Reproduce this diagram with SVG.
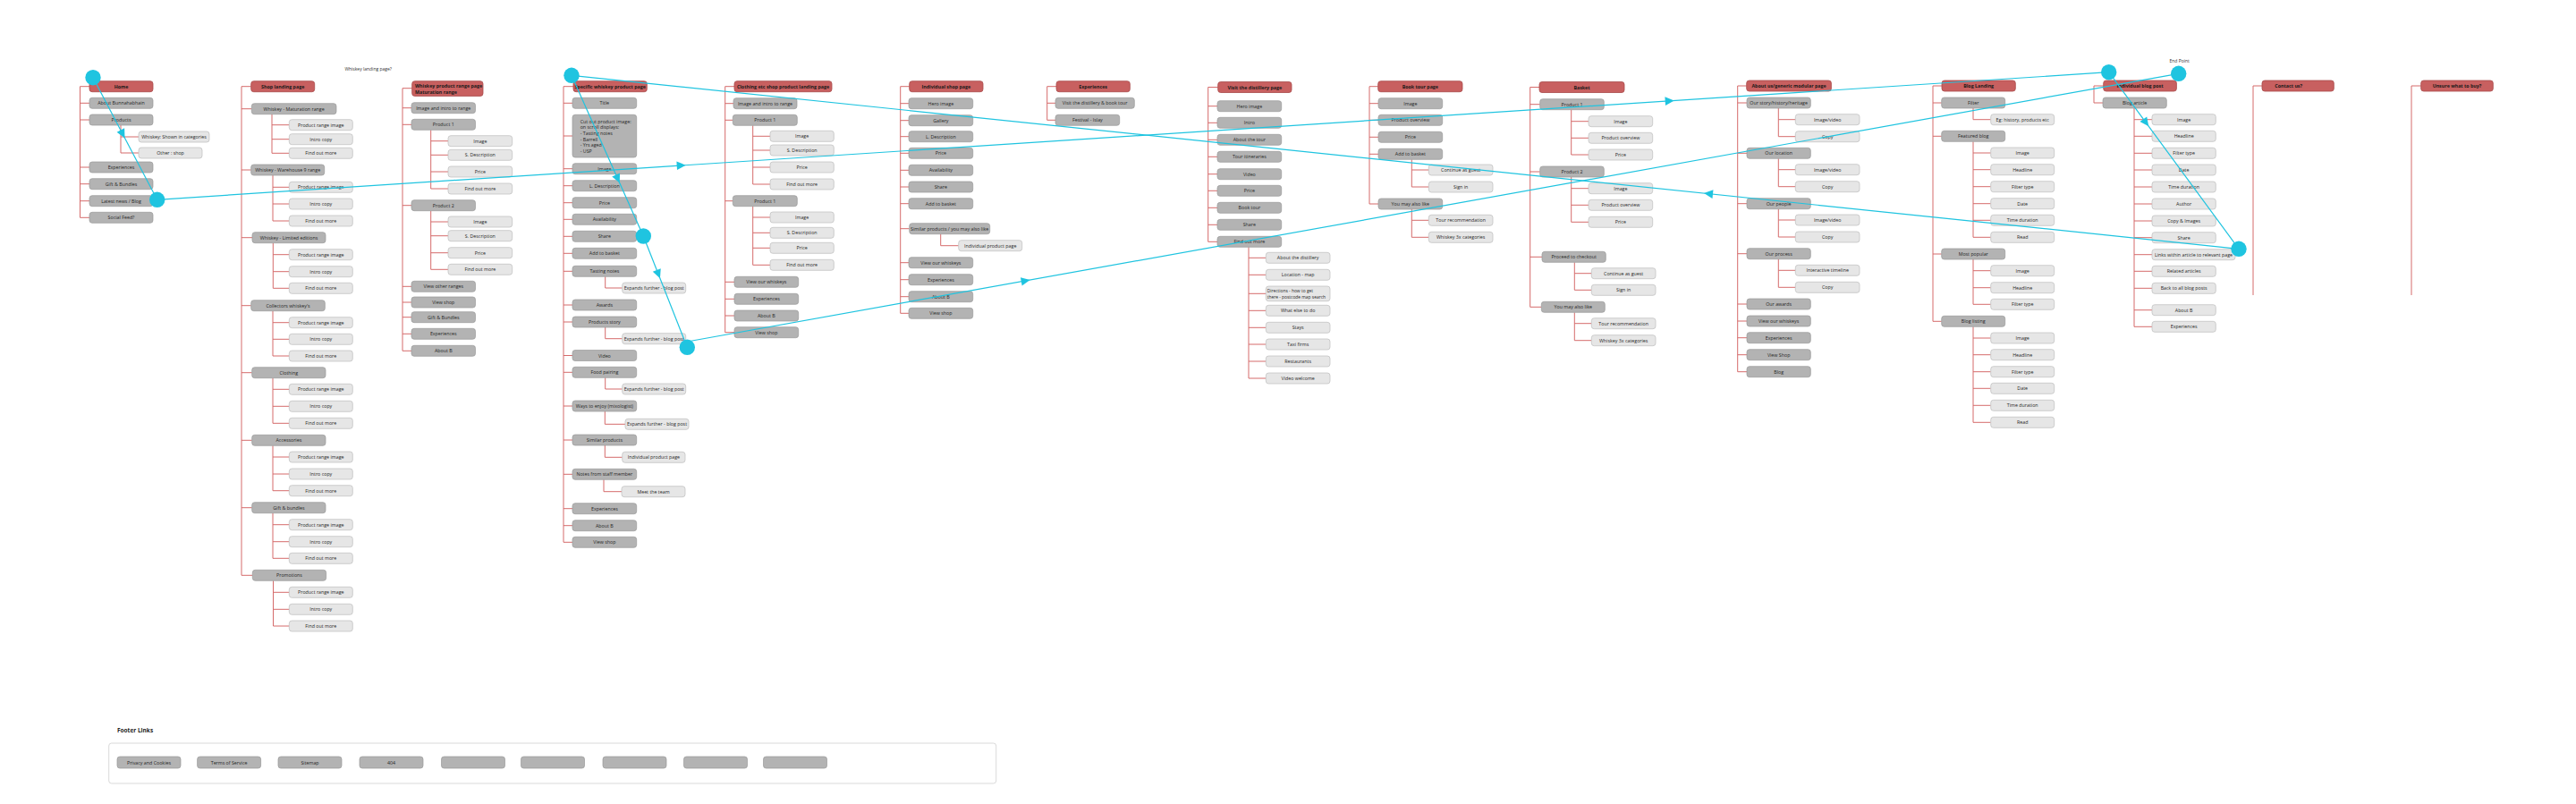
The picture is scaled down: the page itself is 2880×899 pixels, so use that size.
<svg xmlns="http://www.w3.org/2000/svg" width="2880" height="899" viewBox="0 0 2880 899">
<defs>
<style>
.h rect{fill:#c86060;stroke:#a84a4a;stroke-width:.8}
.g rect{fill:#b3b3b3;stroke:#9a9a9a;stroke-width:.7}
.l rect{fill:#e6e6e6;stroke:#bdbdbd;stroke-width:.7}
text{font-family:"Open Sans","Noto Sans","DejaVu Sans",sans-serif;font-size:5.3px;fill:#262626;text-anchor:middle;dominant-baseline:central}
.h text{font-weight:700;fill:#1a1a1a}
text.lt{text-anchor:start}
text.sm{font-size:4.9px}
.note{font-size:5px;fill:#333}
.ft{font-size:6.5px;font-weight:700;text-anchor:start;fill:#222}
#connectors path{fill:none;stroke:#d56b6b;stroke-width:1}
#flow line{stroke:#1fc4e0;stroke-width:1.2}
#flow circle,#flow use{fill:#1fc4e0}
</style>
<path id="arw" d="M5 0L-5 -4.8L-5 4.8Z"/>
</defs>
<rect width="2880" height="899" fill="#fff"/>

<g id="connectors">
<path d="M89.5 96.7V243.3M89.5 96.7H100M89.5 115.3H100M89.5 134H100M89.5 187H100M89.5 205.7H100M89.5 224.7H100M89.5 243.3H100M135 140V171M135 153H155M135 171H155"/>
<path d="M270 96.7V643.3M270 96.7H280.7M270 121.7H281.3M270 190H280.7M270 265.7H282M270 341.7H280.7M270 416.7H281.7M270 492.3H281.7M270 567.7H281.7M270 643.3H282.3
M304 127.7V171.3M304 139.7H323.3M304 155.7H323.3M304 171.3H323.3
M305 196V247M305 209.3H323.3M305 228H323.3M305 247H323.3
M305.3 271.7V322.3M305.3 284.7H323.3M305.3 303.7H323.3M305.3 322.3H323.3
M305 347.7V398M305 360.7H323.3M305 379.3H323.3M305 398H323.3
M305 422.7V473.3M305 435.3H323.3M305 454.3H323.3M305 473.3H323.3
M305 498.3V548.7M305 511H323.3M305 530H323.3M305 548.7H323.3
M305 573.7V624.3M305 586.7H323.3M305 605.7H323.3M305 624.3H323.3
M305.5 649.3V700M305.5 662.3H323.3M305.5 681.3H323.3M305.5 700H323.3"/>
<path d="M450 98.7V392.3M450 98.7H460.7M450 120.7H460M450 139.3H460M450 229.7H460M450 320.3H460M450 338H460M450 354.7H460M450 373.3H460M450 392.3H460
M481.7 145.3V211M481.7 157.7H501M481.7 173.3H501M481.7 192H501M481.7 211H501
M481.7 235.7V301.3M481.7 248H501M481.7 263.7H501M481.7 282.7H501M481.7 301.3H501"/>
<path d="M630 96.7V606.3M630 96.7H641M630 115.3H640M630 152H640M630 188.7H640M630 207.7H640M630 226.7H640M630 245.3H640M630 264.3H640M630 283.3H640M630 303.3H640M630 341H640M630 360H640M630 397.5H640M630 416.3H640M630 454H640M630 492H640M630 530.3H640M630 568.7H640M630 587.7H640M630 606.3H640
M676.7 309.3V322H695.7M676.7 366V378.7H695.7M676.7 422.3V435H695.7M676.3 460V474.3H699M676.3 498V511.3H695.7M675 536.3V549.7H695"/>
<path d="M810.7 96.7V371.7M810.7 96.7H821M810.7 115.7H820M810.7 134.3H819.3M810.7 224.7H819.3M810.7 315.3H821M810.7 334.3H821M810.7 353H821M810.7 371.7H821
M841.7 140.3V206M841.7 152.3H861M841.7 168H861M841.7 187H861M841.7 206H861
M841.7 230.7V296.3M841.7 243H861M841.7 260.3H861M841.7 277.3H861M841.7 296.3H861"/>
<path d="M1006.7 96.7V350.3M1006.7 96.7H1016.7M1006.7 115.7H1016M1006.7 134.7H1016M1006.7 152.7H1016M1006.7 171.3H1016M1006.7 190.3H1016M1006.7 209H1016M1006.7 227.7H1016M1006.7 255.7H1016.7M1006.7 293.7H1016M1006.7 312.7H1016M1006.7 331.7H1016M1006.7 350.3H1016
M1051.7 261.7V274.7H1071.7"/>
<path d="M1170.7 96.7V134.3M1170.7 96.7H1181M1170.7 115.3H1180M1170.7 134.3H1180"/>
<path d="M1350.7 97.5V270.3M1350.7 97.5H1361.7M1350.7 118.7H1361M1350.7 137.3H1361M1350.7 156.3H1361M1350.7 175.3H1361M1350.7 194.7H1361M1350.7 213.3H1361M1350.7 232.3H1361M1350.7 251.3H1361M1350.7 270.3H1361
M1396 276.3V423M1396 288.3H1415.3M1396 307.3H1415.3M1396 328.3H1415.3M1396 347.3H1415.3M1396 366.3H1415.3M1396 385H1415.3M1396 404H1415.3M1396 423H1415.3"/>
<path d="M1531 96.7V228M1531 96.7H1540.7M1531 115.7H1541M1531 134.3H1541M1531 153.3H1541M1531 172.3H1541M1531 228H1541
M1578.3 178.3V209M1578.3 190H1597.3M1578.3 209H1597.3M1578.3 234V265.3M1578.3 246.3H1597.3M1578.3 265.3H1597.3"/>
<path d="M1710.7 97.5V343.3M1710.7 97.5H1721M1710.7 116.7H1721.7M1710.7 192H1721.7M1710.7 287.3H1724M1710.7 343.3H1723.3
M1756.7 122.7V173M1756.7 135.7H1776M1756.7 154.3H1776M1756.7 173H1776
M1756.7 198V248.3M1756.7 210.7H1776M1756.7 229.3H1776M1756.7 248.3H1776
M1760.3 293.3V324.3M1760.3 305.7H1779.3M1760.3 324.3H1779.3
M1760.3 349.3V380.7M1760.3 361.7H1779.3M1760.3 380.7H1779.3"/>
<path d="M1942.7 96V415.7M1942.7 96H1952.7M1942.7 115H1953M1942.7 171.3H1953M1942.7 227.7H1953M1942.7 283.7H1953M1942.7 340H1953M1942.7 359H1953M1942.7 377.7H1953M1942.7 396.7H1953M1942.7 415.7H1953
M1988.3 121V152.7M1988.3 133.7H2007.3M1988.3 152.7H2007.3
M1988.3 177.3V208.7M1988.3 189.7H2007.3M1988.3 208.7H2007.3
M1988.3 233.7V265M1988.3 246H2007.3M1988.3 265H2007.3
M1988.3 289.7V321.3M1988.3 302.3H2007.3M1988.3 321.3H2007.3"/>
<path d="M2161 96V359.3M2161 96H2171M2161 115H2170.7M2161 152.3H2170.7M2161 284H2170.7M2161 359.3H2170.7
M2206 121V133.7H2225.7
M2206 158.3V265.3M2206 171H2225.7M2206 189.7H2225.7M2206 208.7H2225.7M2206 227.7H2225.7M2206 246.3H2225.7M2206 265.3H2225.7
M2206 290V340.3M2206 302.7H2225.7M2206 321.7H2225.7M2206 340.3H2225.7
M2206 365.3V472.3M2206 378H2225.7M2206 396.7H2225.7M2206 415.7H2225.7M2206 434.3H2225.7M2206 453.3H2225.7M2206 472.3H2225.7"/>
<path d="M2341 96V115M2341 96H2351.7M2341 115H2351
M2386 121V365.3M2386 133.7H2406M2386 152.3H2406M2386 171.3H2406M2386 190H2406M2386 209H2406M2386 228H2406M2386 247H2406M2386 265.7H2406M2386 284.7H2406M2386 303.3H2406M2386 322.3H2406M2386 346.7H2406M2386 365.3H2406"/>
<path d="M2519 96V330M2519 96H2529M2696 96V330M2696 96H2706.7"/>
</g>

<text class="note" x="411.7" y="76.7">Whiskey landing page?</text>
<text class="note" x="2436.7" y="68.3">End Point</text>

<!-- Column 1: Home -->
<g id="home" class="h"><rect x="100" y="90.7" width="71" height="12" rx="3"/><text x="135.5" y="96.7">Home</text></g>
<g id="home-about" class="g"><rect x="100" y="109.3" width="71" height="12" rx="3"/><text x="135.5" y="115.3">About Bunnahabhain</text></g>
<g id="home-products" class="g"><rect x="100" y="128" width="71" height="12" rx="3"/><text x="135.5" y="134">Products</text></g>
<g id="home-whiskey-cat" class="l"><rect x="155" y="147" width="79" height="12" rx="3"/><text x="194.5" y="153">Whiskey: Shown in categories</text></g>
<g id="home-other-shop" class="l"><rect x="155" y="165" width="71" height="12" rx="3"/><text x="190.5" y="171">Other : shop</text></g>
<g id="home-experiences" class="g"><rect x="100" y="181" width="71" height="12" rx="3"/><text x="135.5" y="187">Experiences</text></g>
<g id="home-gift" class="g"><rect x="100" y="199.7" width="71" height="12" rx="3"/><text x="135.5" y="205.7">Gift &amp; Bundles</text></g>
<g id="home-latest" class="g"><rect x="100" y="218.7" width="71" height="12" rx="3"/><text x="135.5" y="224.7">Latest news / Blog</text></g>
<g id="home-social" class="g"><rect x="100" y="237.3" width="71" height="12" rx="3"/><text x="135.5" y="243.3">Social Feed?</text></g>

<!-- Column 2: Shop landing -->
<g id="shop" class="h"><rect x="280.7" y="90.7" width="71" height="12" rx="3"/><text x="316.2" y="96.7">Shop landing page</text></g>
<g id="shop-mat" class="g"><rect x="281.3" y="115.7" width="94.7" height="12" rx="3"/><text x="328.65" y="121.7">Whiskey - Maturation range</text></g>
<g id="shop-mat-1" class="l"><rect x="323.3" y="133.7" width="71" height="12" rx="3"/><text x="358.8" y="139.7">Product range image</text></g>
<g id="shop-mat-2" class="l"><rect x="323.3" y="149.7" width="71" height="12" rx="3"/><text x="358.8" y="155.7">Intro copy</text></g>
<g id="shop-mat-3" class="l"><rect x="323.3" y="165.3" width="71" height="12" rx="3"/><text x="358.8" y="171.3">Find out more</text></g>
<g id="shop-wh9" class="g"><rect x="280.7" y="184" width="82" height="12" rx="3"/><text x="321.7" y="190">Whiskey - Warehouse 9 range</text></g>
<g id="shop-wh9-1" class="l"><rect x="323.3" y="203.3" width="71" height="12" rx="3"/><text x="358.8" y="209.3">Product range image</text></g>
<g id="shop-wh9-2" class="l"><rect x="323.3" y="222" width="71" height="12" rx="3"/><text x="358.8" y="228">Intro copy</text></g>
<g id="shop-wh9-3" class="l"><rect x="323.3" y="241" width="71" height="12" rx="3"/><text x="358.8" y="247">Find out more</text></g>
<g id="shop-ltd" class="g"><rect x="282" y="259.7" width="82" height="12" rx="3"/><text x="323" y="265.7">Whiskey - Limited editions</text></g>
<g id="shop-ltd-1" class="l"><rect x="323.3" y="278.7" width="71" height="12" rx="3"/><text x="358.8" y="284.7">Product range image</text></g>
<g id="shop-ltd-2" class="l"><rect x="323.3" y="297.7" width="71" height="12" rx="3"/><text x="358.8" y="303.7">Intro copy</text></g>
<g id="shop-ltd-3" class="l"><rect x="323.3" y="316.3" width="71" height="12" rx="3"/><text x="358.8" y="322.3">Find out more</text></g>
<g id="shop-col" class="g"><rect x="280.7" y="335.7" width="82.6" height="12" rx="3"/><text x="322" y="341.7">Collectors whiskey's</text></g>
<g id="shop-col-1" class="l"><rect x="323.3" y="354.7" width="71" height="12" rx="3"/><text x="358.8" y="360.7">Product range image</text></g>
<g id="shop-col-2" class="l"><rect x="323.3" y="373.3" width="71" height="12" rx="3"/><text x="358.8" y="379.3">Intro copy</text></g>
<g id="shop-col-3" class="l"><rect x="323.3" y="392" width="71" height="12" rx="3"/><text x="358.8" y="398">Find out more</text></g>
<g id="shop-clo" class="g"><rect x="281.7" y="410.7" width="82.3" height="12" rx="3"/><text x="322.85" y="416.7">Clothing</text></g>
<g id="shop-clo-1" class="l"><rect x="323.3" y="429.3" width="71" height="12" rx="3"/><text x="358.8" y="435.3">Product range image</text></g>
<g id="shop-clo-2" class="l"><rect x="323.3" y="448.3" width="71" height="12" rx="3"/><text x="358.8" y="454.3">Intro copy</text></g>
<g id="shop-clo-3" class="l"><rect x="323.3" y="467.3" width="71" height="12" rx="3"/><text x="358.8" y="473.3">Find out more</text></g>
<g id="shop-acc" class="g"><rect x="281.7" y="486.3" width="82.3" height="12" rx="3"/><text x="322.85" y="492.3">Accessories</text></g>
<g id="shop-acc-1" class="l"><rect x="323.3" y="505" width="71" height="12" rx="3"/><text x="358.8" y="511">Product range image</text></g>
<g id="shop-acc-2" class="l"><rect x="323.3" y="524" width="71" height="12" rx="3"/><text x="358.8" y="530">Intro copy</text></g>
<g id="shop-acc-3" class="l"><rect x="323.3" y="542.7" width="71" height="12" rx="3"/><text x="358.8" y="548.7">Find out more</text></g>
<g id="shop-gift" class="g"><rect x="281.7" y="561.7" width="82.3" height="12" rx="3"/><text x="322.85" y="567.7">Gift &amp; bundles</text></g>
<g id="shop-gift-1" class="l"><rect x="323.3" y="580.7" width="71" height="12" rx="3"/><text x="358.8" y="586.7">Product range image</text></g>
<g id="shop-gift-2" class="l"><rect x="323.3" y="599.7" width="71" height="12" rx="3"/><text x="358.8" y="605.7">Intro copy</text></g>
<g id="shop-gift-3" class="l"><rect x="323.3" y="618.3" width="71" height="12" rx="3"/><text x="358.8" y="624.3">Find out more</text></g>
<g id="shop-promo" class="g"><rect x="282.3" y="637.3" width="82.3" height="12" rx="3"/><text x="323.45" y="643.3">Promotions</text></g>
<g id="shop-promo-1" class="l"><rect x="323.3" y="656.3" width="71" height="12" rx="3"/><text x="358.8" y="662.3">Product range image</text></g>
<g id="shop-promo-2" class="l"><rect x="323.3" y="675.3" width="71" height="12" rx="3"/><text x="358.8" y="681.3">Intro copy</text></g>
<g id="shop-promo-3" class="l"><rect x="323.3" y="694" width="71" height="12" rx="3"/><text x="358.8" y="700">Find out more</text></g>

<!-- Column 3: Whiskey product range -->
<g id="range" class="h"><rect x="460.7" y="90.7" width="79.3" height="16.7" rx="3"/><text class="lt" x="464" y="96">Whiskey product range page</text><text class="lt" x="464" y="102.5">Maturation range</text></g>
<g id="range-intro" class="g"><rect x="460" y="114.7" width="71.5" height="12" rx="3"/><text x="495.75" y="120.7">Image and intro to range</text></g>
<g id="range-p1" class="g"><rect x="460" y="133.3" width="71.5" height="12" rx="3"/><text x="495.75" y="139.3">Product 1</text></g>
<g id="range-p1-img" class="l"><rect x="501" y="151.7" width="71.7" height="12" rx="3"/><text x="536.85" y="157.7">Image</text></g>
<g id="range-p1-desc" class="l"><rect x="501" y="167.3" width="71.7" height="12" rx="3"/><text x="536.85" y="173.3">S. Description</text></g>
<g id="range-p1-price" class="l"><rect x="501" y="186" width="71.7" height="12" rx="3"/><text x="536.85" y="192">Price</text></g>
<g id="range-p1-more" class="l"><rect x="501" y="205" width="71.7" height="12" rx="3"/><text x="536.85" y="211">Find out more</text></g>
<g id="range-p2" class="g"><rect x="460" y="223.7" width="71.5" height="12" rx="3"/><text x="495.75" y="229.7">Product 2</text></g>
<g id="range-p2-img" class="l"><rect x="501" y="242" width="71.7" height="12" rx="3"/><text x="536.85" y="248">Image</text></g>
<g id="range-p2-desc" class="l"><rect x="501" y="257.7" width="71.7" height="12" rx="3"/><text x="536.85" y="263.7">S. Description</text></g>
<g id="range-p2-price" class="l"><rect x="501" y="276.7" width="71.7" height="12" rx="3"/><text x="536.85" y="282.7">Price</text></g>
<g id="range-p2-more" class="l"><rect x="501" y="295.3" width="71.7" height="12" rx="3"/><text x="536.85" y="301.3">Find out more</text></g>
<g id="range-other" class="g"><rect x="460" y="314.3" width="71.5" height="12" rx="3"/><text x="495.75" y="320.3">View other ranges</text></g>
<g id="range-shop" class="g"><rect x="460" y="332" width="71.5" height="12" rx="3"/><text x="495.75" y="338">View shop</text></g>
<g id="range-gift" class="g"><rect x="460" y="348.7" width="71.5" height="12" rx="3"/><text x="495.75" y="354.7">Gift &amp; Bundles</text></g>
<g id="range-exp" class="g"><rect x="460" y="367.3" width="71.5" height="12" rx="3"/><text x="495.75" y="373.3">Experiences</text></g>
<g id="range-about" class="g"><rect x="460" y="386.3" width="71.5" height="12" rx="3"/><text x="495.75" y="392.3">About B</text></g>

<!-- Column 4: Specific whiskey product page -->
<g id="prod" class="h"><rect x="641" y="90.7" width="82.3" height="12" rx="3"/><text x="682.15" y="96.7">Specific whiskey product page</text></g>
<g id="prod-title" class="g"><rect x="640" y="109.3" width="71.7" height="12" rx="3"/><text x="675.85" y="115.3">Title</text></g>
<g id="prod-cutout" class="g"><rect x="640" y="128.3" width="71.7" height="47.7" rx="3"/><text class="lt" x="648.7" y="135.7">Cut out product image:</text><text class="lt" x="648.7" y="142.3">on scroll displays:</text><text class="lt" x="648.7" y="149">-  Tasting notes</text><text class="lt" x="648.7" y="155.7">- Barrell</text><text class="lt" x="648.7" y="162.3">- Yrs aged</text><text class="lt" x="648.7" y="169">- USP</text></g>
<g id="prod-image" class="g"><rect x="640" y="182.7" width="71.7" height="12" rx="3"/><text x="675.85" y="188.7">Image</text></g>
<g id="prod-ldesc" class="g"><rect x="640" y="201.7" width="71.7" height="12" rx="3"/><text x="675.85" y="207.7">L. Description</text></g>
<g id="prod-price" class="g"><rect x="640" y="220.7" width="71.7" height="12" rx="3"/><text x="675.85" y="226.7">Price</text></g>
<g id="prod-avail" class="g"><rect x="640" y="239.3" width="71.7" height="12" rx="3"/><text x="675.85" y="245.3">Availability</text></g>
<g id="prod-share" class="g"><rect x="640" y="258.3" width="71.7" height="12" rx="3"/><text x="675.85" y="264.3">Share</text></g>
<g id="prod-basket" class="g"><rect x="640" y="277.3" width="71.7" height="12" rx="3"/><text x="675.85" y="283.3">Add to basket</text></g>
<g id="prod-tasting" class="g"><rect x="640" y="297.3" width="71.7" height="12" rx="3"/><text x="675.85" y="303.3">Tasting notes</text></g>
<g id="prod-tasting-blog" class="l"><rect x="695.7" y="316" width="71" height="12" rx="3"/><text x="731.2" y="322">Expands further - blog post</text></g>
<g id="prod-awards" class="g"><rect x="640" y="335" width="71.7" height="12" rx="3"/><text x="675.85" y="341">Awards</text></g>
<g id="prod-story" class="g"><rect x="640" y="354" width="71.7" height="12" rx="3"/><text x="675.85" y="360">Products story</text></g>
<g id="prod-story-blog" class="l"><rect x="695.7" y="372.7" width="71" height="12" rx="3"/><text x="731.2" y="378.7">Expands further - blog post</text></g>
<g id="prod-video" class="g"><rect x="640" y="391.5" width="71.7" height="12" rx="3"/><text x="675.85" y="397.5">Video</text></g>
<g id="prod-food" class="g"><rect x="640" y="410.3" width="71.7" height="12" rx="3"/><text x="675.85" y="416.3">Food pairing</text></g>
<g id="prod-food-blog" class="l"><rect x="695.7" y="429" width="71" height="12" rx="3"/><text x="731.2" y="435">Expands further - blog post</text></g>
<g id="prod-ways" class="g"><rect x="640" y="448" width="71.7" height="12" rx="3"/><text x="675.85" y="454">Ways to enjoy (mixologist)</text></g>
<g id="prod-ways-blog" class="l"><rect x="699" y="468.3" width="71" height="12" rx="3"/><text x="734.5" y="474.3">Expands further - blog post</text></g>
<g id="prod-similar" class="g"><rect x="640" y="486" width="71.7" height="12" rx="3"/><text x="675.85" y="492">Similar products</text></g>
<g id="prod-similar-page" class="l"><rect x="695.7" y="505.3" width="70.3" height="12" rx="3"/><text x="730.85" y="511.3">Individual product page</text></g>
<g id="prod-notes" class="g"><rect x="640" y="524.3" width="71.7" height="12" rx="3"/><text x="675.85" y="530.3">Notes from staff member</text></g>
<g id="prod-notes-team" class="l"><rect x="695" y="543.7" width="71" height="12" rx="3"/><text x="730.5" y="549.7">Meet the team</text></g>
<g id="prod-exp" class="g"><rect x="640" y="562.7" width="71.7" height="12" rx="3"/><text x="675.85" y="568.7">Experiences</text></g>
<g id="prod-about" class="g"><rect x="640" y="581.7" width="71.7" height="12" rx="3"/><text x="675.85" y="587.7">About B</text></g>
<g id="prod-shop" class="g"><rect x="640" y="600.3" width="71.7" height="12" rx="3"/><text x="675.85" y="606.3">View shop</text></g>

<!-- Column 5: Clothing -->
<g id="cloth" class="h"><rect x="821" y="90.7" width="109" height="12" rx="3"/><text x="875.5" y="96.7">Clothing etc shop product landing page</text></g>
<g id="cloth-intro" class="g"><rect x="820" y="109.7" width="71" height="12" rx="3"/><text x="855.5" y="115.7">Image and intro to range</text></g>
<g id="cloth-p1" class="g"><rect x="819.3" y="128.3" width="72" height="12" rx="3"/><text x="855.3" y="134.3">Product 1</text></g>
<g id="cloth-p1-img" class="l"><rect x="861" y="146.3" width="71.3" height="12" rx="3"/><text x="896.65" y="152.3">Image</text></g>
<g id="cloth-p1-desc" class="l"><rect x="861" y="162" width="71.3" height="12" rx="3"/><text x="896.65" y="168">S. Description</text></g>
<g id="cloth-p1-price" class="l"><rect x="861" y="181" width="71.3" height="12" rx="3"/><text x="896.65" y="187">Price</text></g>
<g id="cloth-p1-more" class="l"><rect x="861" y="200" width="71.3" height="12" rx="3"/><text x="896.65" y="206">Find out more</text></g>
<g id="cloth-p2" class="g"><rect x="819.3" y="218.7" width="72" height="12" rx="3"/><text x="855.3" y="224.7">Product 1</text></g>
<g id="cloth-p2-img" class="l"><rect x="861" y="237" width="71.3" height="12" rx="3"/><text x="896.65" y="243">Image</text></g>
<g id="cloth-p2-desc" class="l"><rect x="861" y="254.3" width="71.3" height="12" rx="3"/><text x="896.65" y="260.3">S. Description</text></g>
<g id="cloth-p2-price" class="l"><rect x="861" y="271.3" width="71.3" height="12" rx="3"/><text x="896.65" y="277.3">Price</text></g>
<g id="cloth-p2-more" class="l"><rect x="861" y="290.3" width="71.3" height="12" rx="3"/><text x="896.65" y="296.3">Find out more</text></g>
<g id="cloth-whiskeys" class="g"><rect x="821" y="309.3" width="71.7" height="12" rx="3"/><text x="856.85" y="315.3">View our whiskeys</text></g>
<g id="cloth-exp" class="g"><rect x="821" y="328.3" width="71.7" height="12" rx="3"/><text x="856.85" y="334.3">Experiences</text></g>
<g id="cloth-about" class="g"><rect x="821" y="347" width="71.7" height="12" rx="3"/><text x="856.85" y="353">About B</text></g>
<g id="cloth-shop" class="g"><rect x="821" y="365.7" width="71.7" height="12" rx="3"/><text x="856.85" y="371.7">View shop</text></g>

<!-- Column 6: Individual shop page -->
<g id="ishop" class="h"><rect x="1016.7" y="90.7" width="82.3" height="12" rx="3"/><text x="1057.85" y="96.7">Individual shop page</text></g>
<g id="ishop-hero" class="g"><rect x="1016" y="109.7" width="71.7" height="12" rx="3"/><text x="1051.85" y="115.7">Hero image</text></g>
<g id="ishop-gallery" class="g"><rect x="1016" y="128.7" width="71.7" height="12" rx="3"/><text x="1051.85" y="134.7">Gallery</text></g>
<g id="ishop-ldesc" class="g"><rect x="1016" y="146.7" width="71.7" height="12" rx="3"/><text x="1051.85" y="152.7">L. Description</text></g>
<g id="ishop-price" class="g"><rect x="1016" y="165.3" width="71.7" height="12" rx="3"/><text x="1051.85" y="171.3">Price</text></g>
<g id="ishop-avail" class="g"><rect x="1016" y="184.3" width="71.7" height="12" rx="3"/><text x="1051.85" y="190.3">Availability</text></g>
<g id="ishop-share" class="g"><rect x="1016" y="203" width="71.7" height="12" rx="3"/><text x="1051.85" y="209">Share</text></g>
<g id="ishop-basket" class="g"><rect x="1016" y="221.7" width="71.7" height="12" rx="3"/><text x="1051.85" y="227.7">Add to basket</text></g>
<g id="ishop-similar" class="g"><rect x="1016.7" y="249.7" width="90" height="12" rx="3"/><text x="1061.7" y="255.7">Similar products / you may also like</text></g>
<g id="ishop-similar-page" class="l"><rect x="1071.7" y="268.7" width="71" height="12" rx="3"/><text x="1107.2" y="274.7">Individual product page</text></g>
<g id="ishop-whiskeys" class="g"><rect x="1016" y="287.7" width="71.7" height="12" rx="3"/><text x="1051.85" y="293.7">View our whiskeys</text></g>
<g id="ishop-exp" class="g"><rect x="1016" y="306.7" width="71.7" height="12" rx="3"/><text x="1051.85" y="312.7">Experiences</text></g>
<g id="ishop-about" class="g"><rect x="1016" y="325.7" width="71.7" height="12" rx="3"/><text x="1051.85" y="331.7">About B</text></g>
<g id="ishop-shop" class="g"><rect x="1016" y="344.3" width="71.7" height="12" rx="3"/><text x="1051.85" y="350.3">View shop</text></g>

<!-- Column 7: Experiences -->
<g id="exp" class="h"><rect x="1181" y="90.7" width="82.3" height="12" rx="3"/><text x="1222.15" y="96.7">Experiences</text></g>
<g id="exp-visit" class="g"><rect x="1180" y="109.3" width="88.3" height="12" rx="3"/><text x="1224.15" y="115.3">Visit the distillery &amp; book tour</text></g>
<g id="exp-festival" class="g"><rect x="1180" y="128.3" width="71.7" height="12" rx="3"/><text x="1215.85" y="134.3">Festival - Islay</text></g>

<!-- Column 8: Visit the distillery -->
<g id="visit" class="h"><rect x="1361.7" y="91.5" width="82.3" height="12" rx="3"/><text x="1402.85" y="97.5">Visit the distillery page</text></g>
<g id="visit-hero" class="g"><rect x="1361" y="112.7" width="71.7" height="12" rx="3"/><text x="1396.85" y="118.7">Hero image</text></g>
<g id="visit-intro" class="g"><rect x="1361" y="131.3" width="71.7" height="12" rx="3"/><text x="1396.85" y="137.3">Intro</text></g>
<g id="visit-about" class="g"><rect x="1361" y="150.3" width="71.7" height="12" rx="3"/><text x="1396.85" y="156.3">About the tour</text></g>
<g id="visit-itin" class="g"><rect x="1361" y="169.3" width="71.7" height="12" rx="3"/><text x="1396.85" y="175.3">Tour itineraries</text></g>
<g id="visit-video" class="g"><rect x="1361" y="188.7" width="71.7" height="12" rx="3"/><text x="1396.85" y="194.7">Video</text></g>
<g id="visit-price" class="g"><rect x="1361" y="207.3" width="71.7" height="12" rx="3"/><text x="1396.85" y="213.3">Price</text></g>
<g id="visit-book" class="g"><rect x="1361" y="226.3" width="71.7" height="12" rx="3"/><text x="1396.85" y="232.3">Book tour</text></g>
<g id="visit-share" class="g"><rect x="1361" y="245.3" width="71.7" height="12" rx="3"/><text x="1396.85" y="251.3">Share</text></g>
<g id="visit-more" class="g"><rect x="1361" y="264.3" width="71.7" height="12" rx="3"/><text x="1396.85" y="270.3">Find out more</text></g>
<g id="visit-more-dist" class="l"><rect x="1415.3" y="282.3" width="71.7" height="12" rx="3"/><text x="1451.15" y="288.3">About the distillery</text></g>
<g id="visit-more-loc" class="l"><rect x="1415.3" y="301.3" width="71.7" height="12" rx="3"/><text x="1451.15" y="307.3">Location - map</text></g>
<g id="visit-more-dir" class="l"><rect x="1415.3" y="320" width="71.7" height="16.7" rx="3"/><text class="lt sm" x="1416.7" y="324.7">Directions - how to get</text><text class="lt sm" x="1416.7" y="331.6">there - postcode map search</text></g>
<g id="visit-more-else" class="l"><rect x="1415.3" y="341.3" width="71.7" height="12" rx="3"/><text x="1451.15" y="347.3">What else to do</text></g>
<g id="visit-more-stays" class="l"><rect x="1415.3" y="360.3" width="71.7" height="12" rx="3"/><text x="1451.15" y="366.3">Stays</text></g>
<g id="visit-more-taxi" class="l"><rect x="1415.3" y="379" width="71.7" height="12" rx="3"/><text x="1451.15" y="385">Taxi firms</text></g>
<g id="visit-more-rest" class="l"><rect x="1415.3" y="398" width="71.7" height="12" rx="3"/><text x="1451.15" y="404">Restaurants</text></g>
<g id="visit-more-video" class="l"><rect x="1415.3" y="417" width="71.7" height="12" rx="3"/><text x="1451.15" y="423">Video welcome</text></g>

<!-- Column 9: Book tour -->
<g id="book" class="h"><rect x="1540.7" y="90.7" width="94.3" height="12" rx="3"/><text x="1587.85" y="96.7">Book tour page</text></g>
<g id="book-image" class="g"><rect x="1541" y="109.7" width="71.7" height="12" rx="3"/><text x="1576.85" y="115.7">Image</text></g>
<g id="book-overview" class="g"><rect x="1541" y="128.3" width="71.7" height="12" rx="3"/><text x="1576.85" y="134.3">Product overview</text></g>
<g id="book-price" class="g"><rect x="1541" y="147.3" width="71.7" height="12" rx="3"/><text x="1576.85" y="153.3">Price</text></g>
<g id="book-basket" class="g"><rect x="1541" y="166.3" width="71.7" height="12" rx="3"/><text x="1576.85" y="172.3">Add to basket</text></g>
<g id="book-guest" class="l"><rect x="1597.3" y="184" width="71.7" height="12" rx="3"/><text x="1633.15" y="190">Continue as guest</text></g>
<g id="book-signin" class="l"><rect x="1597.3" y="203" width="71.7" height="12" rx="3"/><text x="1633.15" y="209">Sign in</text></g>
<g id="book-like" class="g"><rect x="1541" y="222" width="71.7" height="12" rx="3"/><text x="1576.85" y="228">You may also like</text></g>
<g id="book-tourrec" class="l"><rect x="1597.3" y="240.3" width="71.7" height="12" rx="3"/><text x="1633.15" y="246.3">Tour recommendation</text></g>
<g id="book-cats" class="l"><rect x="1597.3" y="259.3" width="71.7" height="12" rx="3"/><text x="1633.15" y="265.3">Whiskey 3x categories</text></g>

<!-- Column 10: Basket -->
<g id="basket" class="h"><rect x="1721" y="91.5" width="95" height="12" rx="3"/><text x="1768.5" y="97.5">Basket</text></g>
<g id="basket-p1" class="g"><rect x="1721.7" y="110.7" width="71.6" height="12" rx="3"/><text x="1757.5" y="116.7">Product 1</text></g>
<g id="basket-p1-img" class="l"><rect x="1776" y="129.7" width="71.7" height="12" rx="3"/><text x="1811.85" y="135.7">Image</text></g>
<g id="basket-p1-ov" class="l"><rect x="1776" y="148.3" width="71.7" height="12" rx="3"/><text x="1811.85" y="154.3">Product overview</text></g>
<g id="basket-p1-price" class="l"><rect x="1776" y="167" width="71.7" height="12" rx="3"/><text x="1811.85" y="173">Price</text></g>
<g id="basket-p2" class="g"><rect x="1721.7" y="186" width="71.6" height="12" rx="3"/><text x="1757.5" y="192">Product 2</text></g>
<g id="basket-p2-img" class="l"><rect x="1776" y="204.7" width="71.7" height="12" rx="3"/><text x="1811.85" y="210.7">Image</text></g>
<g id="basket-p2-ov" class="l"><rect x="1776" y="223.3" width="71.7" height="12" rx="3"/><text x="1811.85" y="229.3">Product overview</text></g>
<g id="basket-p2-price" class="l"><rect x="1776" y="242.3" width="71.7" height="12" rx="3"/><text x="1811.85" y="248.3">Price</text></g>
<g id="basket-checkout" class="g"><rect x="1724" y="281.3" width="71.3" height="12" rx="3"/><text x="1759.65" y="287.3">Proceed to checkout</text></g>
<g id="basket-guest" class="l"><rect x="1779.3" y="299.7" width="71.7" height="12" rx="3"/><text x="1815.15" y="305.7">Continue as guest</text></g>
<g id="basket-signin" class="l"><rect x="1779.3" y="318.3" width="71.7" height="12" rx="3"/><text x="1815.15" y="324.3">Sign in</text></g>
<g id="basket-like" class="g"><rect x="1723.3" y="337.3" width="71" height="12" rx="3"/><text x="1758.8" y="343.3">You may also like</text></g>
<g id="basket-tourrec" class="l"><rect x="1779.3" y="355.7" width="71.7" height="12" rx="3"/><text x="1815.15" y="361.7">Tour recommendation</text></g>
<g id="basket-cats" class="l"><rect x="1779.3" y="374.7" width="71.7" height="12" rx="3"/><text x="1815.15" y="380.7">Whiskey 3x categories</text></g>

<!-- Column 11: About us -->
<g id="about" class="h"><rect x="1952.7" y="90" width="94.7" height="12" rx="3"/><text x="2000.05" y="96">About us/generic modular page</text></g>
<g id="about-story" class="g"><rect x="1953" y="109" width="71.3" height="12" rx="3"/><text x="1988.65" y="115">Our story/history/heritage</text></g>
<g id="about-story-img" class="l"><rect x="2007.3" y="127.7" width="71.7" height="12" rx="3"/><text x="2043.15" y="133.7">Image/video</text></g>
<g id="about-story-copy" class="l"><rect x="2007.3" y="146.7" width="71.7" height="12" rx="3"/><text x="2043.15" y="152.7">Copy</text></g>
<g id="about-loc" class="g"><rect x="1953" y="165.3" width="71.3" height="12" rx="3"/><text x="1988.65" y="171.3">Our location</text></g>
<g id="about-loc-img" class="l"><rect x="2007.3" y="183.7" width="71.7" height="12" rx="3"/><text x="2043.15" y="189.7">Image/video</text></g>
<g id="about-loc-copy" class="l"><rect x="2007.3" y="202.7" width="71.7" height="12" rx="3"/><text x="2043.15" y="208.7">Copy</text></g>
<g id="about-people" class="g"><rect x="1953" y="221.7" width="71.3" height="12" rx="3"/><text x="1988.65" y="227.7">Our people</text></g>
<g id="about-people-img" class="l"><rect x="2007.3" y="240" width="71.7" height="12" rx="3"/><text x="2043.15" y="246">Image/video</text></g>
<g id="about-people-copy" class="l"><rect x="2007.3" y="259" width="71.7" height="12" rx="3"/><text x="2043.15" y="265">Copy</text></g>
<g id="about-process" class="g"><rect x="1953" y="277.7" width="71.3" height="12" rx="3"/><text x="1988.65" y="283.7">Our process</text></g>
<g id="about-process-tl" class="l"><rect x="2007.3" y="296.3" width="71.7" height="12" rx="3"/><text x="2043.15" y="302.3">Interactive timeline</text></g>
<g id="about-process-copy" class="l"><rect x="2007.3" y="315.3" width="71.7" height="12" rx="3"/><text x="2043.15" y="321.3">Copy</text></g>
<g id="about-awards" class="g"><rect x="1953" y="334" width="71.3" height="12" rx="3"/><text x="1988.65" y="340">Our awards</text></g>
<g id="about-whiskeys" class="g"><rect x="1953" y="353" width="71.3" height="12" rx="3"/><text x="1988.65" y="359">View our whiskeys</text></g>
<g id="about-exp" class="g"><rect x="1953" y="371.7" width="71.3" height="12" rx="3"/><text x="1988.65" y="377.7">Experiences</text></g>
<g id="about-shop" class="g"><rect x="1953" y="390.7" width="71.3" height="12" rx="3"/><text x="1988.65" y="396.7">View Shop</text></g>
<g id="about-blog" class="g"><rect x="1953" y="409.7" width="71.3" height="12" rx="3"/><text x="1988.65" y="415.7">Blog</text></g>

<!-- Column 12: Blog landing -->
<g id="blog" class="h"><rect x="2171" y="90" width="82.3" height="12" rx="3"/><text x="2212.15" y="96">Blog Landing</text></g>
<g id="blog-filter" class="g"><rect x="2170.7" y="109" width="71" height="12" rx="3"/><text x="2206.2" y="115">Filter</text></g>
<g id="blog-filter-eg" class="l"><rect x="2225.7" y="127.7" width="71" height="12" rx="3"/><text x="2261.2" y="133.7">Eg: history, products etc</text></g>
<g id="blog-feat" class="g"><rect x="2170.7" y="146.3" width="71" height="12" rx="3"/><text x="2206.2" y="152.3">Featured blog</text></g>
<g id="blog-feat-img" class="l"><rect x="2225.7" y="165" width="71" height="12" rx="3"/><text x="2261.2" y="171">Image</text></g>
<g id="blog-feat-head" class="l"><rect x="2225.7" y="183.7" width="71" height="12" rx="3"/><text x="2261.2" y="189.7">Headline</text></g>
<g id="blog-feat-type" class="l"><rect x="2225.7" y="202.7" width="71" height="12" rx="3"/><text x="2261.2" y="208.7">Filter type</text></g>
<g id="blog-feat-date" class="l"><rect x="2225.7" y="221.7" width="71" height="12" rx="3"/><text x="2261.2" y="227.7">Date</text></g>
<g id="blog-feat-time" class="l"><rect x="2225.7" y="240.3" width="71" height="12" rx="3"/><text x="2261.2" y="246.3">Time duration</text></g>
<g id="blog-feat-read" class="l"><rect x="2225.7" y="259.3" width="71" height="12" rx="3"/><text x="2261.2" y="265.3">Read</text></g>
<g id="blog-pop" class="g"><rect x="2170.7" y="278" width="71" height="12" rx="3"/><text x="2206.2" y="284">Most popular</text></g>
<g id="blog-pop-img" class="l"><rect x="2225.7" y="296.7" width="71" height="12" rx="3"/><text x="2261.2" y="302.7">Image</text></g>
<g id="blog-pop-head" class="l"><rect x="2225.7" y="315.7" width="71" height="12" rx="3"/><text x="2261.2" y="321.7">Headline</text></g>
<g id="blog-pop-type" class="l"><rect x="2225.7" y="334.3" width="71" height="12" rx="3"/><text x="2261.2" y="340.3">Filter type</text></g>
<g id="blog-list" class="g"><rect x="2170.7" y="353.3" width="71" height="12" rx="3"/><text x="2206.2" y="359.3">Blog listing</text></g>
<g id="blog-list-img" class="l"><rect x="2225.7" y="372" width="71" height="12" rx="3"/><text x="2261.2" y="378">Image</text></g>
<g id="blog-list-head" class="l"><rect x="2225.7" y="390.7" width="71" height="12" rx="3"/><text x="2261.2" y="396.7">Headline</text></g>
<g id="blog-list-type" class="l"><rect x="2225.7" y="409.7" width="71" height="12" rx="3"/><text x="2261.2" y="415.7">Filter type</text></g>
<g id="blog-list-date" class="l"><rect x="2225.7" y="428.3" width="71" height="12" rx="3"/><text x="2261.2" y="434.3">Date</text></g>
<g id="blog-list-time" class="l"><rect x="2225.7" y="447.3" width="71" height="12" rx="3"/><text x="2261.2" y="453.3">Time duration</text></g>
<g id="blog-list-read" class="l"><rect x="2225.7" y="466.3" width="71" height="12" rx="3"/><text x="2261.2" y="472.3">Read</text></g>

<!-- Column 13: Individual blog post -->
<g id="post" class="h"><rect x="2351.7" y="90" width="81.7" height="12" rx="3"/><text x="2392.55" y="96">Individual blog post</text></g>
<g id="post-article" class="g"><rect x="2351" y="109" width="71.3" height="12" rx="3"/><text x="2386.65" y="115">Blog article</text></g>
<g id="post-img" class="l"><rect x="2406" y="127.7" width="71.3" height="12" rx="3"/><text x="2441.65" y="133.7">Image</text></g>
<g id="post-head" class="l"><rect x="2406" y="146.3" width="71.3" height="12" rx="3"/><text x="2441.65" y="152.3">Headline</text></g>
<g id="post-type" class="l"><rect x="2406" y="165.3" width="71.3" height="12" rx="3"/><text x="2441.65" y="171.3">Filter type</text></g>
<g id="post-date" class="l"><rect x="2406" y="184" width="71.3" height="12" rx="3"/><text x="2441.65" y="190">Date</text></g>
<g id="post-time" class="l"><rect x="2406" y="203" width="71.3" height="12" rx="3"/><text x="2441.65" y="209">Time duration</text></g>
<g id="post-author" class="l"><rect x="2406" y="222" width="71.3" height="12" rx="3"/><text x="2441.65" y="228">Author</text></g>
<g id="post-copy" class="l"><rect x="2406" y="241" width="71.3" height="12" rx="3"/><text x="2441.65" y="247">Copy &amp; Images</text></g>
<g id="post-share" class="l"><rect x="2406" y="259.7" width="71.3" height="12" rx="3"/><text x="2441.65" y="265.7">Share</text></g>
<g id="post-links" class="l"><rect x="2406" y="278.7" width="93" height="12" rx="3"/><text x="2452.5" y="284.7">Links within article to relevant page</text></g>
<g id="post-related" class="l"><rect x="2406" y="297.3" width="71.3" height="12" rx="3"/><text x="2441.65" y="303.3">Related articles</text></g>
<g id="post-back" class="l"><rect x="2406" y="316.3" width="71.3" height="12" rx="3"/><text x="2441.65" y="322.3">Back to all blog posts</text></g>
<g id="post-about" class="l"><rect x="2406" y="340.7" width="71.3" height="12" rx="3"/><text x="2441.65" y="346.7">About B</text></g>
<g id="post-exp" class="l"><rect x="2406" y="359.3" width="71.3" height="12" rx="3"/><text x="2441.65" y="365.3">Experiences</text></g>

<!-- Columns 14-15 -->
<g id="contact" class="h"><rect x="2529" y="90" width="80.3" height="12" rx="3"/><text x="2558.7" y="96">Contact us?</text></g>
<g id="unsure" class="h"><rect x="2706.7" y="90" width="80.6" height="12" rx="3"/><text x="2747" y="96">Unsure what to buy?</text></g>

<!-- Footer -->
<g id="footer">
<text class="ft" x="131" y="816">Footer Links</text>
<rect x="121.7" y="831" width="992" height="45" rx="3" fill="#fff" stroke="#cfcfcf" stroke-width=".8"/>
<g id="footer-privacy" class="g"><rect x="131" y="846" width="71" height="13" rx="3"/><text x="166.5" y="852.5">Privacy and Cookies</text></g>
<g id="footer-terms" class="g"><rect x="220.6" y="846" width="71" height="13" rx="3"/><text x="256.1" y="852.5">Terms of Service</text></g>
<g id="footer-sitemap" class="g"><rect x="311" y="846" width="71" height="13" rx="3"/><text x="346.5" y="852.5">Sitemap</text></g>
<g id="footer-404" class="g"><rect x="402" y="846" width="71" height="13" rx="3"/><text x="437.5" y="852.5">404</text></g>
<g id="footer-5" class="g"><rect x="493.5" y="846" width="71" height="13" rx="3"/></g>
<g id="footer-6" class="g"><rect x="582.5" y="846" width="71" height="13" rx="3"/></g>
<g id="footer-7" class="g"><rect x="674" y="846" width="71" height="13" rx="3"/></g>
<g id="footer-8" class="g"><rect x="764.5" y="846" width="71" height="13" rx="3"/></g>
<g id="footer-9" class="g"><rect x="853.5" y="846" width="71" height="13" rx="3"/></g>
</g>

<!-- User flow connectors -->
<g id="flow">
<line x1="104" y1="86.7" x2="175.7" y2="223.3"/>
<line x1="175.7" y1="223.3" x2="2357.7" y2="80.7"/>
<line x1="2357.7" y1="80.7" x2="2503" y2="278.3"/>
<line x1="2503" y1="278.3" x2="639" y2="84.3"/>
<line x1="639" y1="84.3" x2="719.3" y2="264"/>
<line x1="719.3" y1="264" x2="768.3" y2="388.3"/>
<line x1="768.3" y1="382" x2="2435.7" y2="82.3"/>
<use href="#arw" transform="translate(137.2 150) rotate(62.3)"/>
<use href="#arw" transform="translate(761.7 185) rotate(-3.74)"/>
<use href="#arw" transform="translate(1866.7 112.8) rotate(-3.74)"/>
<use href="#arw" transform="translate(2399.3 137.3) rotate(53.7)"/>
<use href="#arw" transform="translate(1910 216.6) rotate(185.94)"/>
<use href="#arw" transform="translate(690.7 200) rotate(65.9)"/>
<use href="#arw" transform="translate(736.1 306.7) rotate(68.5)"/>
<use href="#arw" transform="translate(1146.7 314) rotate(-10.2)"/>
<circle cx="104" cy="86.7" r="8.7"/>
<circle cx="175.7" cy="223.3" r="8.7"/>
<circle cx="2357.7" cy="80.7" r="8.7"/>
<circle cx="2503" cy="278.3" r="8.7"/>
<circle cx="639" cy="84.3" r="8.7"/>
<circle cx="719.3" cy="264" r="8.7"/>
<circle cx="768.3" cy="388.3" r="8.7"/>
<circle cx="2435.7" cy="82.3" r="8.7"/>
</g>
</svg>
